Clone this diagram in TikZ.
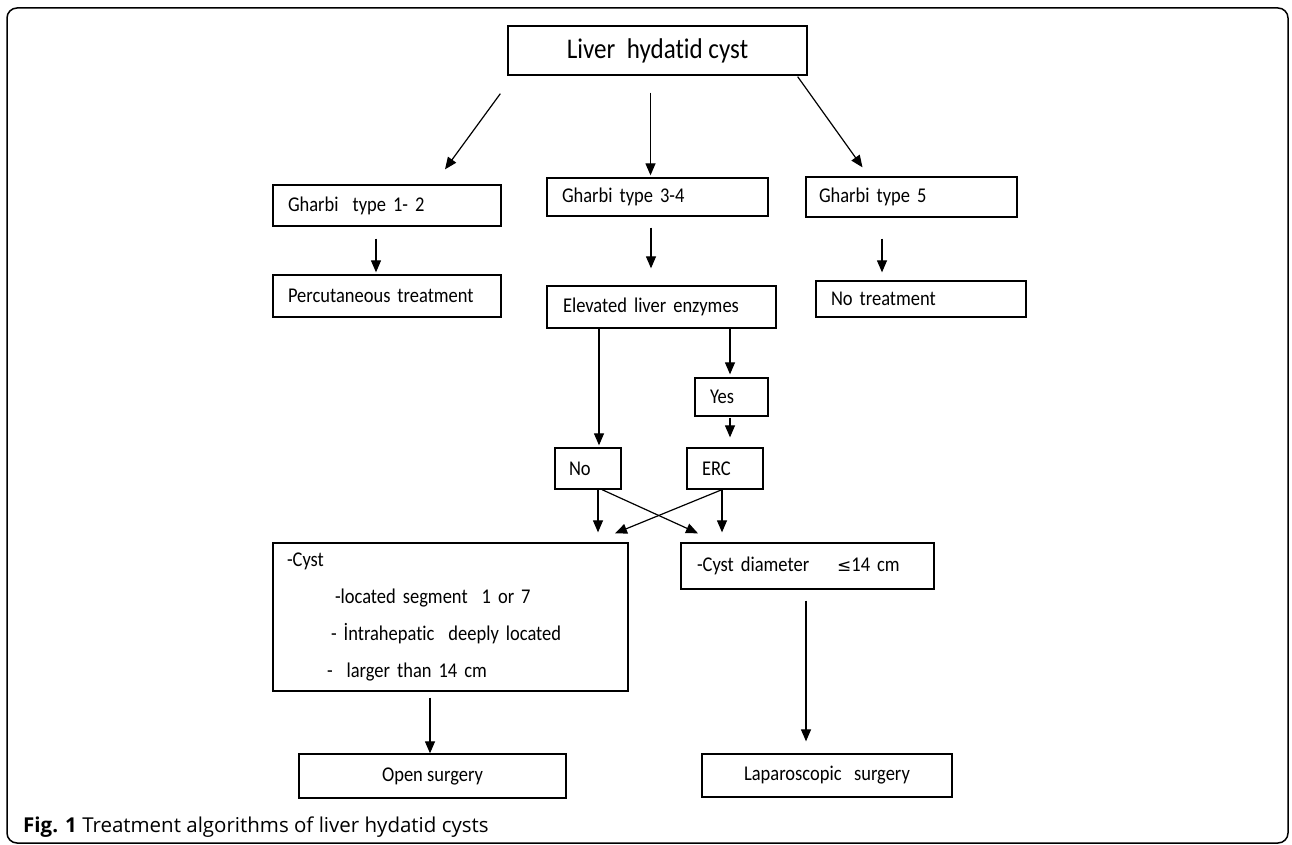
\documentclass[tikz,border=0pt]{standalone}
\usepackage{fontspec}
\setmainfont{Carlito}[FakeStretch=0.88, RawFeature=-liga]
\newfontfamily\capfont{Open Sans}
\newfontfamily\symfont{DejaVu Sans}
\usepackage{tikz}
\usetikzlibrary{calc,arrows.meta}
\tikzset{
	box/.style={draw, line width=1.3pt, inner xsep=15pt, inner ysep=0pt, align=left, font=\fontsize{21}{25}\selectfont},
	cbox/.style={box, align=center},
	arr/.style={line width=1.2pt, -{Triangle[length=12pt,width=10pt]}}
}

\begin{document}
\begin{tikzpicture}[x=1pt,y=-1pt]
		%%%%% START %%%%%
		\useasboundingbox (0,0) rectangle (1292,845);
		\draw[line width=1.5pt, rounded corners=10pt] (7,8) rectangle (1288,843);
		
		\node[cbox, font=\fontsize{28.5}{32}\selectfont, minimum width=299pt, minimum height=49pt] (liver) at (657.5,50.5) {Liver\ \ hydatid cyst};
		
		\node[box, text width=198pt, minimum height=41pt] (type12) at (387,205.5) {Gharbi\ \ type 1- 2};
		\node[box, text width=191pt, minimum height=38pt] (type34) at (657.5,197) {Gharbi type 3-4};
		\node[box, inner xsep=13pt, text width=185pt, minimum height=40pt] (type5) at (911.5,197) {Gharbi type 5};
		
		\node[box, text width=198pt, minimum height=42pt] (percut) at (387,296) {Percutaneous treatment};
		\node[box, inner xsep=16pt, text width=197pt, minimum height=42pt] (enzymes) at (661.5,307) {Elevated liver enzymes};
		\node[box, text width=180pt, minimum height=36pt] (notreat) at (921,299) {No treatment};
		
		\node[box, text width=43pt, minimum height=38pt] (yes) at (731.5,397) {Yes};
		\node[box, inner xsep=14pt, text width=38pt, minimum height=41pt] (no) at (588,468.5) {No};
		\node[box, text width=46pt, minimum height=41pt] (erc) at (725,468.5) {ERC};
		
		\node[box, inner xsep=14pt, text width=327pt, minimum height=148pt, font=\fontsize{21}{37}\selectfont] (cyst) at (450.5,617) {-Cyst\\\hspace*{48pt}-located segment\ \ 1 or 7\\\hspace*{44pt}- İntrahepatic\ \ deeply located\\\hspace*{40pt}-\ \ larger than 14 cm};
		\node[box, inner xsep=16pt, text width=221pt, minimum height=46pt] (diam) at (807.5,566) {-Cyst diameter\ \ \ \ {\symfont\fontsize{17}{20}\selectfont ≤}14 cm};
		
		\node[cbox, minimum width=267pt, minimum height=44pt] (opensurg) at (432.5,776) {Open surgery};
		\node[cbox, minimum width=250pt, minimum height=43pt] (laparo) at (827,775.5) {Laparoscopic\ \ \ surgery};
		
		% arrows
		\draw[arr] ($(liver.south west)+(-7,18)$) -- ($(type12.north)+(58,-15)$);
		\draw[arr] ($(liver.south)+(-7,17)$) -- ($(type34.north)+(-7,-2)$);
		\draw[arr] ($(liver.south east)+(-10,1)$) -- ($(type5.north)+(-49,-9)$);
		
		\draw[arr] ($(type12.south)+(-11,12)$) -- ($(percut.north)+(-11,-2)$);
		\draw[arr] ($(type34.south)+(-6.5,11)$) -- ($(enzymes.north)+(-10.5,-17)$);
		\draw[arr] ($(type5.south)+(-29.5,21)$) -- ($(notreat.north)+(-39,-8)$);
		
		\draw[arr] ($(enzymes.south)+(-62.5,0)$) -- ($(no.north)+(11,-2)$);
		\draw[arr] ($(enzymes.south)+(68.5,0)$) -- ($(yes.north)+(-1.5,-3)$);
		\draw[arr] ($(yes.south)+(-1.5,1)$) -- ($(erc.north)+(5,-10)$);
		
		\draw[arr] ($(no.south)+(10,0)$) -- ($(cyst.north)+(147.5,-10)$);
		\draw[arr] ($(no.south)+(14,0)$) -- ($(diam.north)+(-109.5,-9)$);
		\draw[arr] ($(erc.south)+(-3,0)$) -- ($(diam.north)+(-85.5,-10)$);
		\draw[arr] ($(erc.south)+(-3,0)$) -- ($(cyst.north)+(164.5,-9)$);
		
		\draw[arr] ($(cyst.south)+(-20.5,6)$) -- ($(opensurg.north)+(-2.5,0)$);
		\draw[arr] ($(diam.south)+(-1.5,11)$) -- ($(laparo.north)+(-21,-12)$);
		
		\node[anchor=west, inner sep=0pt, font=\capfont\fontsize{20.5}{24}\selectfont] (caption) at (23,827) {\textbf{Fig. 1} Treatment algorithms of liver hydatid cysts};
		%%%%% END %%%%%
\end{tikzpicture}
\end{document}
